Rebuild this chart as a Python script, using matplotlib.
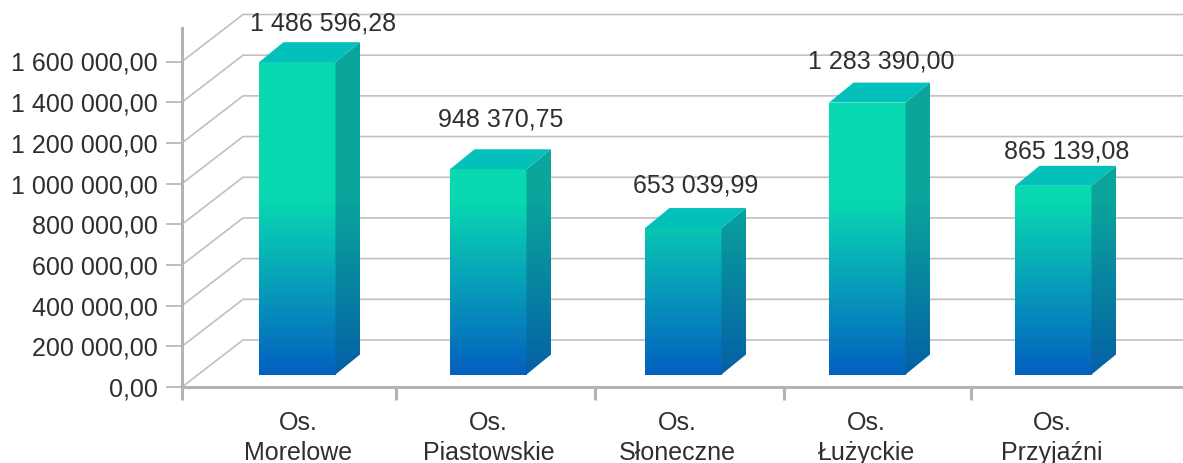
import matplotlib
matplotlib.use('Agg')
import matplotlib.pyplot as plt
import numpy as np
from matplotlib.colors import LinearSegmentedColormap
from matplotlib.patches import Polygon, Rectangle

plt.rcParams['font.family'] = ['Liberation Sans', 'DejaVu Sans']

categories = ['Os.\nMorelowe', 'Os.\nPiastowskie', 'Os.\nSłoneczne', 'Os.\nŁużyckie', 'Os.\nPrzyjaźni']
values = [1486596.28, 948370.75, 653039.99, 1283390.00, 865139.08]
axis_ticks = [0, 200000, 400000, 600000, 800000, 1000000, 1200000, 1400000, 1600000]

W, H = 1183, 463
TEXT = '#2f2f2f'
AXIS = '#b3b3b3'
GRID = '#c0c0c0'

# layout, in pixels from the top left corner
bar_left = [259, 450, 645, 829, 1015]
bar_w = 76.5
depth_x, depth_y = 24.5, 20
label_x = [323, 501, 696, 881, 1066.5]
label_y = [24, 120, 186, 61, 151]
cat_x = [298, 488.5, 677, 866, 1052]
sep_x = [396, 595, 784, 971]


def add_px_axes(fig, left, top, right, bottom):
    return fig.add_axes([left / W, 1 - bottom / H, (right - left) / W, (bottom - top) / H])


def fmt_pl(v):
    return f'{v:,.2f}'.replace(',', ' ').replace('.', ',')


fig = plt.figure(figsize=(W / 100, H / 100), dpi=100)

# wall axes: y follows the tick values, x is in pixels
wall_top = 28
v_per_px = 1600000 / (387 - 61.5)
ax = add_px_axes(fig, 182, wall_top, W, 387)
ax.set_xlim(182, W)
ax.set_ylim(0, (387 - wall_top) * v_per_px)
ax.patch.set_alpha(0)
for s in ['top', 'right']:
    ax.spines[s].set_visible(False)
for s in ['left', 'bottom']:
    ax.spines[s].set_color(AXIS)
    ax.spines[s].set_linewidth(2.2)
ax.set_yticks(axis_ticks, [fmt_pl(v) for v in axis_ticks], fontsize=18, color=TEXT)
ax.tick_params(axis='y', length=11.5, width=1.2, color=AXIS, pad=6)
ax.set_xticks([182] + sep_x, [])
ax.tick_params(axis='x', length=9.5, width=2.2, color=AXIS)

# floor and back wall grid lines
back_dx, back_dv = 61, 47 * v_per_px
for v in axis_ticks:
    ax.plot([182, 182 + back_dx, W], [v, v + back_dv, v + back_dv], color=GRID, lw=1.2,
            clip_on=False, zorder=1, solid_joinstyle='miter')

# bars have their own value scale, their base sits a little below its zero
px_per_v = 1.99e-4
zero_y, floor_y = 358, 374.5
bx = add_px_axes(fig, 0, 0, W, floor_y)
bar_ylim = ((zero_y - floor_y) / px_per_v, zero_y / px_per_v)
bx.set_xlim(0, W)
bx.set_ylim(*bar_ylim)
bx.axis('off')
floor_v = bar_ylim[0]
dv = depth_y / px_per_v

# one gradient for the whole plot height, full green from about y=200 up
green_at = (floor_y - 200) / floor_y
front_map = LinearSegmentedColormap.from_list('front', [(0, '#0460c0'), (green_at, '#09d9b1'), (1, '#09d9b1')])
side_map = LinearSegmentedColormap.from_list('side', [(0, '#0560a6'), (green_at, '#0aa59b'), (1, '#0aa59b')])
ramp = np.linspace(0, 1, 256).reshape(-1, 1)
grad_extent = [0, W, floor_v, bar_ylim[1]]

for left, v in zip(bar_left, values):
    right = left + bar_w
    front = Rectangle((left, floor_v), bar_w, v - floor_v, transform=bx.transData)
    im = bx.imshow(ramp, cmap=front_map, origin='lower', extent=grad_extent, aspect='auto', zorder=3)
    im.set_clip_path(front)
    side = Polygon([(right, floor_v), (right + depth_x, floor_v + dv), (right + depth_x, v + dv), (right, v)],
                   transform=bx.transData)
    im = bx.imshow(ramp, cmap=side_map, origin='lower', extent=grad_extent, aspect='auto', zorder=3)
    im.set_clip_path(side)
    bx.add_patch(Polygon([(left, v), (left + depth_x, v + dv), (right + depth_x, v + dv), (right, v)],
                         facecolor='#04c0bb', edgecolor='none', zorder=3, clip_on=False))
bx.set_xlim(0, W)
bx.set_ylim(*bar_ylim)

for x, y, v in zip(label_x, label_y, values):
    fig.text(x / W, 1 - y / H, fmt_pl(v), fontsize=18, color=TEXT, ha='center', va='center')
for x, name in zip(cat_x, categories):
    fig.text(x / W, 1 - 438 / H, name, fontsize=18, color=TEXT, ha='center', va='center', linespacing=1.27)

fig.savefig('out.png', dpi=100)
